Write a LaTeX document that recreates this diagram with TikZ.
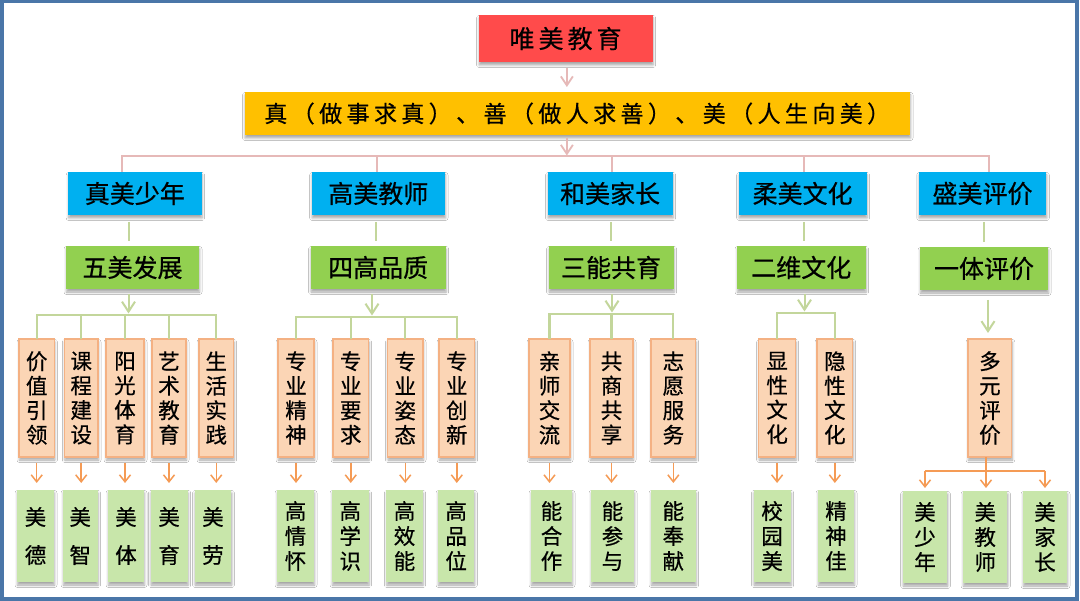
\documentclass[tikz,border=0pt]{standalone}
\usepackage{fontspec}
\setmainfont[FakeBold=0.6]{Noto Sans CJK SC}
\usetikzlibrary{arrows.meta,shadows.blur,calc}
\definecolor{framecol}{HTML}{4A76A8}
\definecolor{topred}{HTML}{FF4B4B}
\definecolor{mainyellow}{HTML}{FFC000}
\definecolor{catblue}{HTML}{00B0F0}
\definecolor{catgreen}{HTML}{92D050}
\definecolor{itemfill}{HTML}{FBD5B5}
\definecolor{itemdraw}{HTML}{F4B183}
\definecolor{resfill}{HTML}{C8E6AA}
\definecolor{pinkc}{HTML}{E6B9B8}
\definecolor{glinec}{HTML}{C3D69B}
\definecolor{oarrowc}{HTML}{F59B55}
\makeatletter
\def\st@end{}
\newcommand\spreadtext[2]{\def\st@k{#1}\st@first#2\st@end}
\def\st@first#1{#1\st@loop}
\def\st@loop#1{\ifx#1\st@end\else\kern\st@k#1\expandafter\st@loop\fi}
\makeatother
\tikzset{
 boxbase/.style={inner sep=0pt, outer sep=0pt, text=black,
   blur shadow={shadow xshift=0.5pt, shadow yshift=-3pt, shadow blur radius=2.5pt, shadow opacity=35}},
 topbox/.style={boxbase, fill=topred, font=\fontsize{25}{25}\selectfont},
 mainbox/.style={boxbase, fill=mainyellow, font=\fontsize{23}{23}\selectfont},
 catbox/.style={boxbase, fill=catblue, minimum height=43, font=\fontsize{25}{25}\selectfont},
 subbox/.style={boxbase, fill=catgreen, minimum height=43, font=\fontsize{25}{25}\selectfont},
 itembox/.style={boxbase, fill=itemfill, draw=itemdraw, line width=1.2pt, minimum height=118, align=center, font=\fontsize{21.5}{24.5}\selectfont},
 resbox/.style={boxbase, fill=resfill, minimum height=92, align=center, font=\fontsize{21.5}{25}\selectfont},
 restwo/.style={resbox, font=\fontsize{21.5}{38}\selectfont},
 pinkline/.style={draw=pinkc, line width=2pt},
 pinkarrow/.style={draw=pinkc, line width=1.8pt, -{Straight Barb[length=9pt,width=12pt]}},
 gline/.style={draw=glinec, line width=2.2pt},
 garrow/.style={draw=glinec, line width=2pt, -{Straight Barb[length=10pt,width=13pt]}},
 oline/.style={draw=oarrowc, line width=1.6pt},
 oarrow/.style={draw=oarrowc, line width=1.5pt, -{Straight Barb[length=7pt,width=11pt]}},
}
\begin{document}
\begin{tikzpicture}[x=1pt,y=-1pt]
\useasboundingbox (0,0) rectangle (1080,601);
\fill[white] (0,0) rectangle (1080,601);

% top levels
\node[topbox, minimum width=174, minimum height=47] (top) at (565.6,38.5) {\spreadtext{4pt}{唯美教育}};
\node[mainbox, minimum width=665.5, minimum height=43] (main) at (577.3,113.5) {\spreadtext{4.4pt}{真（做事求真）、善（做人求善）、美（人生向美）}};

% category boxes
\node[catbox, minimum width=133.3] (b1) at (134.85,193.5) {真美少年};
\node[catbox, minimum width=133.3] (b2) at (378.35,193.5) {高美教师};
\node[catbox, minimum width=125] (b3) at (610.1,193.5) {和美家长};
\node[catbox, minimum width=127.8] (b4) at (802.6,193.5) {柔美文化};
\node[catbox, minimum width=127.5] (b5) at (982.5,193.5) {盛美评价};

% sub boxes
\node[subbox, minimum width=133] (g1) at (132.5,267.5) {五美发展};
\node[subbox, minimum width=135] (g2) at (378.1,267.5) {四高品质};
\node[subbox, minimum width=125] (g3) at (611.1,267.5) {三能共育};
\node[subbox, minimum width=128.5] (g4) at (801.25,267.5) {二维文化};
\node[subbox, minimum width=128] (g5) at (984,268.5) {一体评价};

% item boxes
\node[itembox, minimum width=35.4] (o11) at (36.7,398) {价\\值\\引\\领};
\node[itembox, minimum width=33.6] (o12) at (81.2,398) {课\\程\\建\\设};
\node[itembox, minimum width=38] (o13) at (125,398) {阳\\光\\体\\育};
\node[itembox, minimum width=34] (o14) at (169,398) {艺\\术\\教\\育};
\node[itembox, minimum width=34.5] (o15) at (216.25,398) {生\\活\\实\\践};
\node[itembox, minimum width=36] (o21) at (296,398) {专\\业\\精\\神};
\node[itembox, minimum width=35.5] (o22) at (350.75,398) {专\\业\\要\\求};
\node[itembox, minimum width=35.5] (o23) at (405.25,398) {专\\业\\姿\\态};
\node[itembox, minimum width=35.6] (o24) at (456.8,398) {专\\业\\创\\新};
\node[itembox, minimum width=41] (o31) at (549.5,398) {亲\\师\\交\\流};
\node[itembox, minimum width=43] (o32) at (611.5,398) {共\\商\\共\\享};
\node[itembox, minimum width=44.7] (o33) at (673.35,398) {志\\愿\\服\\务};
\node[itembox, minimum width=36.8] (o41) at (777.1,398) {显\\性\\文\\化};
\node[itembox, minimum width=35.7] (o42) at (834.85,398) {隐\\性\\文\\化};
\node[itembox, minimum width=43.8] (o51) at (989.9,398) {多\\元\\评\\价};

% result boxes
\node[restwo, minimum width=37] (l11) at (35.5,536) {美\\德};
\node[restwo, minimum width=34.5] (l12) at (80.25,536) {美\\智};
\node[restwo, minimum width=36] (l13) at (126,536) {美\\体};
\node[restwo, minimum width=37.2] (l14) at (169.1,536) {美\\育};
\node[restwo, minimum width=36.8] (l15) at (213,536) {美\\劳};
\node[resbox, minimum width=37] (l21) at (295.5,536) {高\\情\\怀};
\node[resbox, minimum width=36.5] (l22) at (350.25,536) {高\\学\\识};
\node[resbox, minimum width=36.2] (l23) at (404.5,536) {高\\效\\能};
\node[resbox, minimum width=36.3] (l24) at (456.15,536) {高\\品\\位};
\node[resbox, minimum width=41] (l31) at (551.5,536) {能\\合\\作};
\node[resbox, minimum width=43] (l32) at (612.5,536) {能\\参\\与};
\node[resbox, minimum width=44.7] (l33) at (673.35,536) {能\\奉\\献};
\node[resbox, minimum width=37.2] (l41) at (772.1,536) {校\\园\\美};
\node[resbox, minimum width=36] (l42) at (836,536) {精\\神\\佳};
\node[resbox, minimum width=44.7] (l51) at (925,537) {美\\少\\年};
\node[resbox, minimum width=44.4] (l52) at (985.2,537) {美\\教\\师};
\node[resbox, minimum width=44] (l53) at (1045,537) {美\\家\\长};

% pink connectors
\coordinate (hub) at (566.9,156);
\coordinate (h1) at (122.3,156);
\coordinate (h2) at (377,156);
\coordinate (h3) at (612.3,156);
\coordinate (h4) at (803.5,156);
\coordinate (h5) at (989.4,156);
\draw[pinkarrow, shorten <=6pt, shorten >=5pt] (top.south -| hub) -- (main.north -| hub);
\draw[pinkarrow, shorten <=3pt, shorten >=0.5pt] (main.south -| hub) -- (hub);
\draw[pinkline] (h1 |- b1.north) -- (h1) -- (h5) -- (h5 |- b5.north);
\draw[pinkline] (h2) -- (h2 |- b2.north);
\draw[pinkline] (h3) -- (h3 |- b3.north);
\draw[pinkline] (h4) -- (h4 |- b4.north);

% blue to green connectors
\coordinate (v1) at (129,231);
\coordinate (v2) at (376,231);
\coordinate (v3) at (611,231);
\coordinate (v4) at (804,231);
\coordinate (v5) at (984,231);
\foreach \i in {1,...,5}{
  \draw[gline, shorten <=7pt, shorten >=5pt] (b\i.south -| v\i) -- (g\i.north -| v\i);
}

% green to brackets
\coordinate (k1) at (128.5,315);
\coordinate (k2) at (372,317);
\coordinate (k3) at (612,314);
\coordinate (k4) at (804.5,313);
\coordinate (k5) at (988,320);
\foreach \i in {1,...,4}{
  \draw[garrow, shorten <=5pt, shorten >=1.5pt] (g\i.south -| k\i) -- (k\i);
}
\draw[garrow, shorten <=10pt, shorten >=6pt] (g5.south -| k5) -- (o51.north -| k5);

\draw[gline] (o11.north) -- (o11.north |- k1) -- (o15.north |- k1) -- (o15.north);
\foreach \j in {12,13,14}{ \draw[gline] (k1 -| o\j.north) -- (o\j.north); }
\draw[gline] (o21.north) -- (o21.north |- k2) -- (o24.north |- k2) -- (o24.north);
\foreach \j in {22,23}{ \draw[gline] (k2 -| o\j.north) -- (o\j.north); }
\draw[gline] (o31.north) -- (o31.north |- k3) -- (o33.north |- k3) -- (o33.north);
\draw[gline] (k3 -| o32.north) -- (o32.north);
\draw[gline] (o41.north) -- (o41.north |- k4) -- (o42.north |- k4) -- (o42.north);

% item to result arrows
\foreach \j in {11,12,13,14,15,21,22,23,24,31,32,33,41,42}{
  \draw[oarrow, shorten <=6pt, shorten >=7pt] (o\j.south) -- (o\j.south |- l\j.north);
}
\coordinate (m5) at (986,471);
\draw[oline] (o51.south -| m5) -- (m5);
\draw[oline] (m5 -| l51.north) -- (m5 -| l53.north);
\draw[oarrow, shorten >=3pt] (m5 -| l51.north) -- (l51.north);
\draw[oarrow, shorten >=3pt] (m5) -- (m5 |- l52.north);
\draw[oarrow, shorten >=3pt] (m5 -| l53.north) -- (l53.north);

% frame
\draw[framecol, line width=3.5pt] (1.75,1.75) rectangle (1077,599);
\end{tikzpicture}
\end{document}
